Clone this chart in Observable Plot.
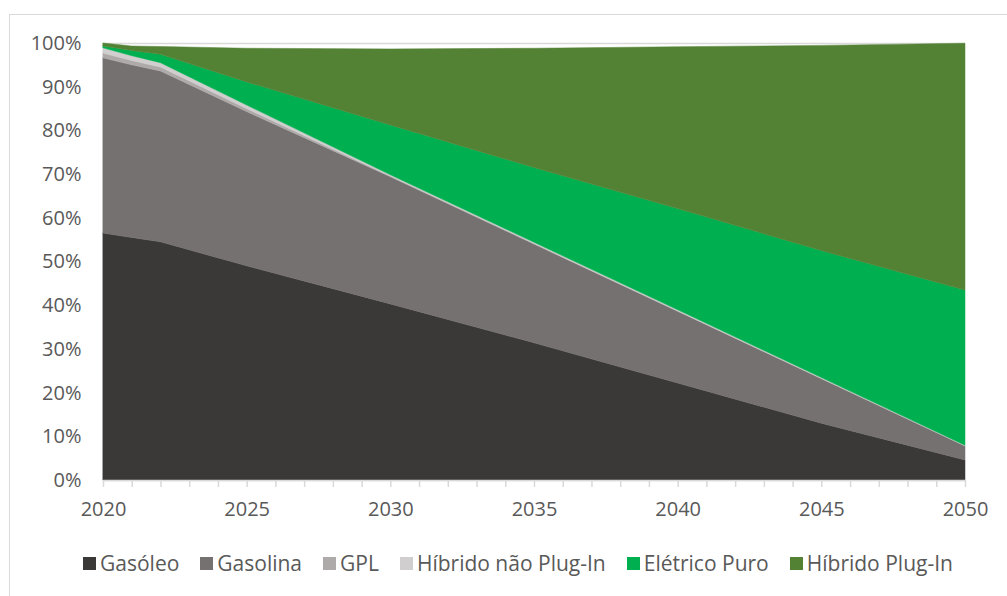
<!DOCTYPE html>
<html>
<head>
<meta charset="utf-8">
<script src="https://cdn.jsdelivr.net/npm/d3@7"></script>
<script src="https://cdn.jsdelivr.net/npm/@observablehq/plot@0.6"></script>
<style>
  html, body { margin: 0; padding: 0; background: #fff; }
  body { width: 1007px; height: 596px; position: relative; overflow: hidden; font-family: "Open Sans", sans-serif; }
  #frame { position: absolute; left: 9px; top: 14px; width: 1100px; height: 700px; border: 1px solid #d9d9d9; box-sizing: border-box; }
  #chart { position: absolute; left: 0; top: 0; }
  #legend { position: absolute; left: 83px; top: 549px; display: flex; align-items: center; gap: 21px; font-size: 21px; color: #595959; white-space: nowrap; }
  #legend .item { display: flex; align-items: center; gap: 4px; }
  #legend .sw { width: 13px; height: 13px; display: inline-block; }
</style>
</head>
<body>
<div id="frame"></div>
<div id="chart"></div>
<div id="legend"></div>
<script>
const years = [2020, 2021, 2022, 2025, 2030, 2035, 2040, 2045, 2050];
const seriesNames = ["Gasóleo", "Gasolina", "GPL", "Híbrido não Plug-In", "Elétrico Puro", "Híbrido Plug-In"];
const gasoleo   = [56.5, 55.5, 54.5, 49.0, 40.3, 31.4, 22.2, 13.0, 4.6];
const gasolina  = [40.1, 39.5, 39.1, 35.3, 29.1, 22.6, 16.4, 10.2, 3.2];
const gpl       = [1.1, 1.0, 0.9, 0.7, 0.15, 0.1, 0.1, 0.05, 0.05];
const hibridoNaoPlugIn = [1.2, 1.1, 1.0, 0.8, 0.3, 0.3, 0.25, 0.2, 0.1];
const eletricoPuro = [0.4, 1.2, 1.9, 5.3, 11.4, 17.1, 23.15, 29.05, 35.5];
const hibridoPlugIn = [0.7, 1.0, 1.8, 7.7, 17.4, 27.3, 37.05, 46.95, 56.5];
const colors = ["#3b3838", "#767171", "#aeaaaa", "#d0cece", "#00b050", "#548235"];
const yTicks = [0, 10, 20, 30, 40, 50, 60, 70, 80, 90, 100];
const xLabelTicks = [2020, 2025, 2030, 2035, 2040, 2045, 2050];
const xMinorTicks = d3.range(2020, 2051);

const seriesValues = [gasoleo, gasolina, gpl, hibridoNaoPlugIn, eletricoPuro, hibridoPlugIn];
const data = [];
seriesNames.forEach((name, i) => {
  years.forEach((year, j) => data.push({ year, series: name, value: seriesValues[i][j] }));
});

const chart = Plot.plot({
  width: 1007,
  height: 540,
  marginTop: 43,
  marginBottom: 60,
  marginLeft: 103,
  marginRight: 42,
  style: { fontFamily: "Open Sans, sans-serif", fontSize: "20px", color: "#595959", background: "transparent" },
  x: { domain: [2020, 2050] },
  y: { domain: [0, 100] },
  color: { domain: seriesNames, range: colors },
  marks: [
    Plot.ruleY(yTicks, { stroke: "#d9d9d9", strokeWidth: 1.5 }),
    Plot.areaY(data, { x: "year", y: "value", fill: "series", order: seriesNames, stroke: "series", strokeWidth: 0.5 }),
    Plot.ruleY([0], { stroke: "#d9d9d9", strokeWidth: 1.5 }),
    Plot.axisX({ ticks: xMinorTicks, tickSize: 7, tickFormat: () => "", stroke: "#d9d9d9", strokeWidth: 1.5, label: null }),
    Plot.axisX({ ticks: xLabelTicks, tickSize: 0, tickPadding: 21, tickFormat: d => String(d), fill: "#595959", label: null }),
    Plot.axisY({ ticks: yTicks, tickSize: 0, tickPadding: 22, tickFormat: d => d + "%", fill: "#595959", label: null })
  ]
});
document.getElementById("chart").appendChild(chart);

const legend = document.getElementById("legend");
seriesNames.forEach((name, i) => {
  const item = document.createElement("div");
  item.className = "item";
  const sw = document.createElement("span");
  sw.className = "sw";
  sw.style.background = colors[i];
  const label = document.createElement("span");
  label.textContent = name;
  item.appendChild(sw);
  item.appendChild(label);
  legend.appendChild(item);
});
</script>
</body>
</html>
